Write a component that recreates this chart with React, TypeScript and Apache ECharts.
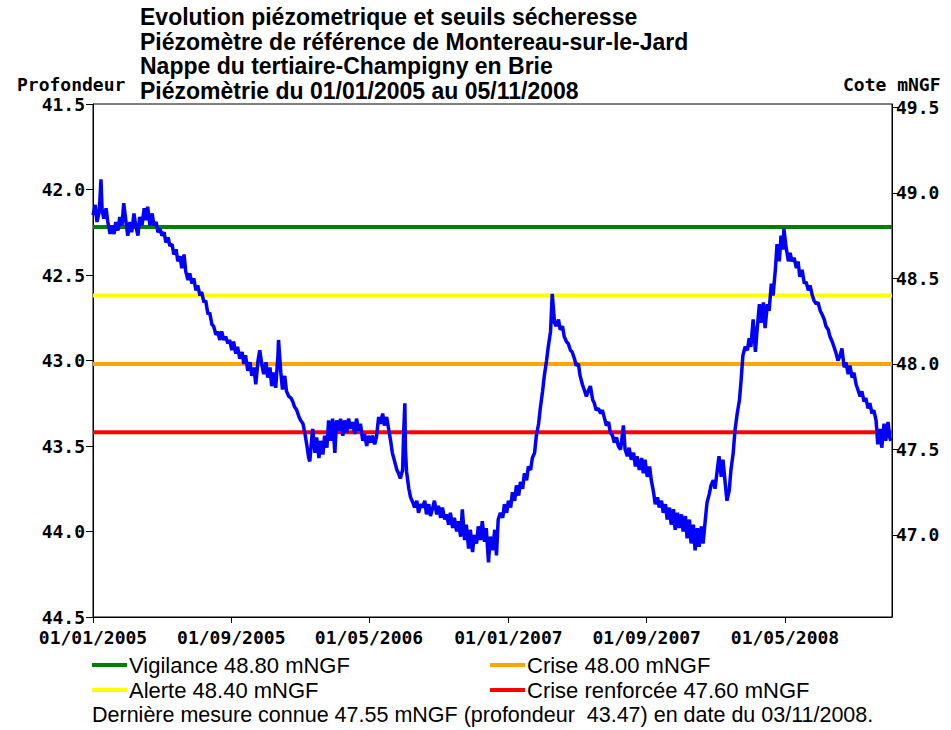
import React, { useEffect, useRef } from "react";
import * as echarts from "echarts";

// ---------- texts ----------
const titleLines = [
  "Evolution piézometrique et seuils sécheresse",
  "Piézomètre de référence de Montereau-sur-le-Jard",
  "Nappe du tertiaire-Champigny en Brie",
  "Piézomètrie du 01/01/2005 au 05/11/2008",
];
const leftAxisName = "Profondeur";
const rightAxisName = "Cote mNGF";
const footerText =
  "Dernière mesure connue 47.55 mNGF (profondeur  43.47) en date du 03/11/2008.";

// ---------- axes ----------
const xStart = "2005-01-01";
const xEnd = "2008-11-05";
const xTickDates = ["2005-01-01", "2005-09-01", "2006-05-01", "2007-01-01", "2007-09-01", "2008-05-01"];
const profMin = 41.5;
const profMax = 44.5;
const profStep = 0.5;
const coteMin = 46.52;
const coteMax = 49.52;
const coteTicks = [47.0, 47.5, 48.0, 48.5, 49.0, 49.5];

// ---------- thresholds (cote, mNGF) ----------
const thresholdLabels = ["Vigilance", "Alerte", "Crise", "Crise renforcée"];
const thresholdCote = [48.8, 48.4, 48.0, 47.6];
const thresholdColors = ["#008000", "#ffff00", "#ffa500", "#ff0000"];

// ---------- measured depth (profondeur, m) ----------
const levels2005: [string, number][] = [
  ["2005-01-01",42.15],["2005-01-05",42.09],["2005-01-08",42.19],["2005-01-12",42.13],["2005-01-15",41.94],["2005-01-17",42.12],["2005-01-20",42.17],["2005-01-24",42.11],["2005-01-27",42.19],["2005-01-31",42.26],
  ["2005-02-03",42.21],["2005-02-07",42.26],["2005-02-10",42.19],["2005-02-14",42.24],["2005-02-17",42.16],["2005-02-21",42.21],["2005-02-24",42.08],["2005-02-28",42.19],
  ["2005-03-03",42.27],["2005-03-07",42.19],["2005-03-10",42.25],["2005-03-14",42.14],["2005-03-17",42.21],["2005-03-21",42.27],["2005-03-24",42.16],["2005-03-28",42.21],
  ["2005-04-01",42.11],["2005-04-04",42.18],["2005-04-07",42.10],["2005-04-11",42.21],["2005-04-15",42.14],["2005-04-18",42.21],["2005-04-22",42.19],["2005-04-25",42.25],["2005-04-29",42.23],
  ["2005-05-02",42.27],["2005-05-06",42.25],["2005-05-09",42.31],["2005-05-13",42.28],["2005-05-16",42.33],["2005-05-20",42.32],["2005-05-23",42.38],["2005-05-27",42.35],["2005-05-30",42.42],
  ["2005-06-03",42.39],["2005-06-06",42.46],["2005-06-10",42.38],["2005-06-13",42.48],["2005-06-17",42.53],["2005-06-20",42.49],["2005-06-24",42.55],["2005-06-27",42.52],
  ["2005-07-01",42.59],["2005-07-04",42.56],["2005-07-08",42.62],["2005-07-11",42.60],["2005-07-15",42.66],["2005-07-18",42.65],["2005-07-22",42.73],["2005-07-25",42.72],["2005-07-29",42.79],
  ["2005-08-01",42.80],["2005-08-05",42.85],["2005-08-08",42.83],["2005-08-12",42.88],["2005-08-15",42.83],["2005-08-19",42.88],["2005-08-22",42.86],["2005-08-26",42.90],["2005-08-29",42.88],
  ["2005-09-02",42.94],["2005-09-05",42.89],["2005-09-09",42.96],["2005-09-12",42.92],["2005-09-16",42.99],["2005-09-20",42.95],["2005-09-23",43.02],["2005-09-26",42.97],["2005-09-30",43.06],
  ["2005-10-04",43.01],["2005-10-07",43.09],["2005-10-11",43.04],["2005-10-14",43.14],["2005-10-18",43.00],["2005-10-21",42.94],["2005-10-25",43.03],["2005-10-28",43.08],
  ["2005-11-01",43.01],["2005-11-04",43.10],["2005-11-08",43.04],["2005-11-11",43.15],["2005-11-15",43.07],["2005-11-18",43.16],["2005-11-22",42.97],["2005-11-23",42.88],["2005-11-27",43.07],["2005-11-30",43.17],
  ["2005-12-04",43.09],["2005-12-07",43.18],["2005-12-11",43.21],["2005-12-15",43.22],["2005-12-18",43.24],["2005-12-21",43.27],["2005-12-25",43.29],["2005-12-29",43.33],
];
const levels2006: [string, number][] = [
  ["2006-01-01",43.35],["2006-01-05",43.37],["2006-01-08",43.42],["2006-01-12",43.50],["2006-01-15",43.57],["2006-01-17",43.59],["2006-01-20",43.47],["2006-01-22",43.40],["2006-01-26",43.54],["2006-01-29",43.45],
  ["2006-02-02",43.57],["2006-02-05",43.47],["2006-02-09",43.55],["2006-02-12",43.44],["2006-02-16",43.51],["2006-02-19",43.35],["2006-02-23",43.47],["2006-02-26",43.34],
  ["2006-03-02",43.54],["2006-03-05",43.35],["2006-03-09",43.41],["2006-03-12",43.34],["2006-03-16",43.44],["2006-03-19",43.35],["2006-03-23",43.42],["2006-03-26",43.34],["2006-03-30",43.40],
  ["2006-04-02",43.36],["2006-04-06",43.43],["2006-04-09",43.34],["2006-04-13",43.41],["2006-04-16",43.37],["2006-04-20",43.47],["2006-04-23",43.43],["2006-04-27",43.50],["2006-04-30",43.44],
  ["2006-05-04",43.48],["2006-05-07",43.44],["2006-05-11",43.49],["2006-05-14",43.45],["2006-05-18",43.33],["2006-05-21",43.37],["2006-05-25",43.31],["2006-05-28",43.38],
  ["2006-06-01",43.33],["2006-06-05",43.41],["2006-06-08",43.47],["2006-06-11",43.54],["2006-06-15",43.59],["2006-06-19",43.64],["2006-06-22",43.66],["2006-06-25",43.69],["2006-06-29",43.64],
  ["2006-07-01",43.41],["2006-07-03",43.25],["2006-07-04",43.52],["2006-07-06",43.65],["2006-07-10",43.75],["2006-07-13",43.80],["2006-07-17",43.83],["2006-07-20",43.86],["2006-07-24",43.82],["2006-07-27",43.89],["2006-07-31",43.84],
  ["2006-08-03",43.86],["2006-08-07",43.82],["2006-08-10",43.90],["2006-08-14",43.84],["2006-08-17",43.91],["2006-08-21",43.86],["2006-08-24",43.82],["2006-08-28",43.90],["2006-08-31",43.85],
  ["2006-09-04",43.92],["2006-09-07",43.86],["2006-09-11",43.93],["2006-09-14",43.90],["2006-09-18",43.96],["2006-09-21",43.89],["2006-09-25",43.98],["2006-09-28",43.92],
  ["2006-10-02",44.00],["2006-10-05",43.94],["2006-10-09",44.03],["2006-10-12",43.87],["2006-10-16",44.05],["2006-10-19",43.96],["2006-10-23",44.10],["2006-10-26",43.99],["2006-10-30",44.12],
  ["2006-11-02",44.02],["2006-11-06",44.07],["2006-11-09",43.97],["2006-11-13",44.05],["2006-11-16",43.94],["2006-11-20",44.06],["2006-11-23",43.98],["2006-11-27",44.18],["2006-11-30",44.03],
  ["2006-12-04",44.11],["2006-12-08",43.99],["2006-12-11",44.14],["2006-12-14",43.93],["2006-12-18",43.89],["2006-12-22",43.92],["2006-12-25",43.84],["2006-12-29",43.89],
];
const levels2007: [string, number][] = [
  ["2007-01-01",43.82],["2007-01-05",43.86],["2007-01-08",43.77],["2007-01-12",43.82],["2007-01-15",43.73],["2007-01-19",43.79],["2007-01-22",43.71],["2007-01-26",43.75],["2007-01-29",43.66],
  ["2007-02-02",43.70],["2007-02-05",43.62],["2007-02-09",43.64],["2007-02-12",43.57],["2007-02-16",43.54],["2007-02-19",43.44],["2007-02-23",43.37],["2007-02-26",43.28],
  ["2007-03-02",43.18],["2007-03-05",43.09],["2007-03-09",43.00],["2007-03-12",42.92],["2007-03-16",42.83],["2007-03-19",42.61],["2007-03-23",42.78],["2007-03-26",42.80],["2007-03-30",42.76],
  ["2007-04-02",42.82],["2007-04-06",42.80],["2007-04-09",42.86],["2007-04-13",42.89],["2007-04-16",42.90],["2007-04-20",42.94],["2007-04-23",42.95],["2007-04-27",42.99],["2007-04-30",43.03],
  ["2007-05-04",43.02],["2007-05-07",43.09],["2007-05-11",43.14],["2007-05-14",43.17],["2007-05-18",43.21],["2007-05-21",43.18],["2007-05-25",43.15],["2007-05-29",43.23],
  ["2007-06-01",43.25],["2007-06-04",43.29],["2007-06-08",43.28],["2007-06-12",43.31],["2007-06-15",43.29],["2007-06-19",43.34],["2007-06-22",43.38],["2007-06-26",43.36],["2007-06-29",43.42],
  ["2007-07-03",43.44],["2007-07-06",43.48],["2007-07-10",43.45],["2007-07-13",43.50],["2007-07-17",43.52],["2007-07-20",43.44],["2007-07-22",43.38],["2007-07-25",43.52],["2007-07-29",43.56],
  ["2007-08-01",43.51],["2007-08-05",43.58],["2007-08-09",43.54],["2007-08-12",43.62],["2007-08-15",43.56],["2007-08-19",43.64],["2007-08-23",43.57],["2007-08-26",43.66],["2007-08-29",43.58],
  ["2007-09-02",43.68],["2007-09-06",43.62],["2007-09-09",43.70],["2007-09-13",43.77],["2007-09-16",43.84],["2007-09-20",43.80],["2007-09-23",43.86],["2007-09-27",43.82],["2007-09-30",43.89],
  ["2007-10-04",43.84],["2007-10-07",43.93],["2007-10-11",43.86],["2007-10-14",43.96],["2007-10-18",43.87],["2007-10-21",43.99],["2007-10-25",43.89],["2007-10-28",43.98],
  ["2007-11-01",43.90],["2007-11-04",44.00],["2007-11-08",43.91],["2007-11-11",44.04],["2007-11-15",43.93],["2007-11-18",44.07],["2007-11-22",43.96],["2007-11-25",44.11],["2007-11-29",43.98],
  ["2007-12-02",44.09],["2007-12-06",43.97],["2007-12-09",44.07],["2007-12-13",43.93],["2007-12-16",43.83],["2007-12-20",43.78],["2007-12-23",43.73],["2007-12-27",43.70],["2007-12-30",43.75],
];
const levels2008: [string, number][] = [
  ["2008-01-03",43.64],["2008-01-06",43.56],["2008-01-10",43.68],["2008-01-13",43.58],["2008-01-17",43.72],["2008-01-20",43.82],["2008-01-24",43.76],["2008-01-27",43.64],["2008-01-31",43.54],
  ["2008-02-03",43.41],["2008-02-07",43.31],["2008-02-11",43.23],["2008-02-14",43.11],["2008-02-17",42.97],["2008-02-21",42.92],["2008-02-25",42.94],["2008-02-28",42.87],
  ["2008-03-02",42.92],["2008-03-06",42.76],["2008-03-10",42.95],["2008-03-13",42.82],["2008-03-17",42.67],["2008-03-20",42.78],["2008-03-24",42.66],["2008-03-27",42.81],["2008-03-31",42.67],
  ["2008-04-03",42.71],["2008-04-07",42.55],["2008-04-10",42.62],["2008-04-14",42.47],["2008-04-17",42.32],["2008-04-21",42.42],["2008-04-24",42.27],["2008-04-28",42.35],["2008-04-29",42.23],
  ["2008-05-03",42.34],["2008-05-07",42.42],["2008-05-10",42.37],["2008-05-13",42.42],["2008-05-17",42.40],["2008-05-21",42.46],["2008-05-24",42.42],["2008-05-27",42.51],["2008-05-31",42.47],
  ["2008-06-04",42.55],["2008-06-07",42.54],["2008-06-11",42.59],["2008-06-14",42.56],["2008-06-18",42.62],["2008-06-21",42.65],["2008-06-25",42.67],["2008-06-28",42.66],
  ["2008-07-02",42.71],["2008-07-05",42.73],["2008-07-09",42.76],["2008-07-12",42.80],["2008-07-16",42.82],["2008-07-19",42.86],["2008-07-23",42.89],["2008-07-26",42.92],["2008-07-30",42.96],
  ["2008-08-02",43.00],["2008-08-06",42.97],["2008-08-09",42.93],["2008-08-13",43.04],["2008-08-16",43.01],["2008-08-20",43.08],["2008-08-23",43.03],["2008-08-27",43.10],["2008-08-30",43.07],
  ["2008-09-03",43.14],["2008-09-06",43.17],["2008-09-10",43.21],["2008-09-13",43.18],["2008-09-17",43.24],["2008-09-20",43.22],["2008-09-24",43.28],["2008-09-27",43.25],
  ["2008-10-01",43.31],["2008-10-04",43.29],["2008-10-08",43.35],["2008-10-11",43.49],["2008-10-15",43.40],["2008-10-18",43.51],["2008-10-22",43.37],["2008-10-25",43.47],["2008-10-29",43.36],
  ["2008-11-01",43.45],["2008-11-03",43.47],
];

function parseLocal(s: string): number {
  const [y, m, d] = s.split("-").map(Number);
  return new Date(y, m - 1, d).getTime();
}
function fmtDate(t: number): string {
  const d = new Date(t);
  const p = (n: number) => (n < 10 ? "0" + n : "" + n);
  return p(d.getDate()) + "/" + p(d.getMonth() + 1) + "/" + d.getFullYear();
}

const MONO = "'DejaVu Sans Mono', monospace";
const SANS = "'Liberation Sans', Arial, sans-serif";

export default function App() {
  const ref = useRef<HTMLDivElement>(null);

  useEffect(() => {
    if (!ref.current) return;
    const chart = echarts.init(ref.current, null, { renderer: "svg" });

    const xMinTs = parseLocal(xStart);
    const xMaxTs = parseLocal(xEnd);
    const xTicks = xTickDates.map(parseLocal);
    const levelData = [...levels2005, ...levels2006, ...levels2007, ...levels2008].map(
      ([d, v]) => [parseLocal(d), v]
    );

    const axisLabelStyle = {
      fontFamily: MONO,
      fontWeight: "bold" as const,
      fontSize: 18,
      color: "#000",
    };

    const thresholdSeries = thresholdCote.map((v, i) => ({
      name: thresholdLabels[i],
      type: "line" as const,
      yAxisIndex: 1,
      data: [
        [xMinTs, v],
        [xMaxTs, v],
      ],
      showSymbol: false,
      silent: true,
      lineStyle: { color: thresholdColors[i], width: 4 },
      z: 2,
    }));

    const legendGraphics: any[] = [];
    thresholdLabels.forEach((lab, i) => {
      const col = Math.floor(i / 2);
      const row = i % 2;
      const x0 = col === 0 ? 92 : 490;
      const yc = row === 0 ? 665 : 690;
      legendGraphics.push({
        type: "line",
        shape: { x1: x0, y1: yc, x2: x0 + 35, y2: yc },
        style: { stroke: thresholdColors[i], lineWidth: 4 },
      });
      legendGraphics.push({
        type: "text",
        x: x0 + 37,
        y: yc,
        style: {
          text: `${lab} ${thresholdCote[i].toFixed(2)} mNGF`,
          font: `22px ${SANS}`,
          fill: "#000",
          verticalAlign: "middle",
        },
      });
    });

    chart.setOption({
      animation: false,
      backgroundColor: "#fff",
      title: {
        text: titleLines.join("\n"),
        left: 140,
        top: 5,
        padding: 0,
        textStyle: {
          fontFamily: SANS,
          fontWeight: "bold",
          fontSize: 23,
          lineHeight: 24.5,
          color: "#000",
        },
      },
      grid: {
        left: 93,
        right: 59,
        top: 104,
        bottom: 113,
        show: true,
        borderColor: "#000",
        borderWidth: 1,
        containLabel: false,
      },
      xAxis: {
        type: "value",
        min: xMinTs,
        max: xMaxTs,
        axisLine: { show: true, lineStyle: { color: "#000", width: 1 } },
        axisTick: { show: true, length: 6, lineStyle: { color: "#000" }, customValues: xTicks },
        axisLabel: {
          ...axisLabelStyle,
          customValues: xTicks,
          margin: 11,
          formatter: (v: number) => fmtDate(v),
        },
        splitLine: { show: false },
        minorTick: { show: false },
      },
      yAxis: [
        {
          type: "value",
          position: "left",
          inverse: true,
          min: profMin,
          max: profMax,
          interval: profStep,
          axisLine: { show: true, lineStyle: { color: "#000", width: 1 } },
          axisTick: { show: true, length: 7, lineStyle: { color: "#000" } },
          axisLabel: { ...axisLabelStyle, margin: 8, formatter: (v: number) => v.toFixed(1) },
          splitLine: { show: false },
        },
        {
          type: "value",
          position: "right",
          min: coteMin,
          max: coteMax,
          axisLine: { show: true, lineStyle: { color: "#000", width: 1 } },
          axisTick: { show: true, length: 7, lineStyle: { color: "#000" }, customValues: coteTicks },
          axisLabel: {
            ...axisLabelStyle,
            margin: 4,
            customValues: coteTicks,
            formatter: (v: number) => v.toFixed(1),
          },
          splitLine: { show: false },
        },
      ],
      graphic: [
        {
          type: "text",
          x: 17,
          y: 84,
          style: { text: leftAxisName, font: `bold 18px ${MONO}`, fill: "#000", verticalAlign: "middle" },
        },
        {
          type: "text",
          x: 843,
          y: 84,
          style: { text: rightAxisName, font: `bold 18px ${MONO}`, fill: "#000", verticalAlign: "middle" },
        },
        ...legendGraphics,
        {
          type: "text",
          x: 92,
          y: 715,
          style: { text: footerText, font: `21.5px ${SANS}`, fill: "#000", verticalAlign: "middle" },
        },
      ],
      series: [
        ...thresholdSeries,
        {
          name: "Profondeur",
          type: "line",
          yAxisIndex: 0,
          data: levelData,
          showSymbol: false,
          silent: true,
          lineStyle: { color: "#0000ff", width: 3.5 },
          z: 5,
        },
      ],
    });

    return () => chart.dispose();
  }, []);

  return (
    <div
      ref={ref}
      style={{ position: "fixed", left: 0, top: 0, width: 951, height: 730, background: "#fff" }}
    />
  );
}
